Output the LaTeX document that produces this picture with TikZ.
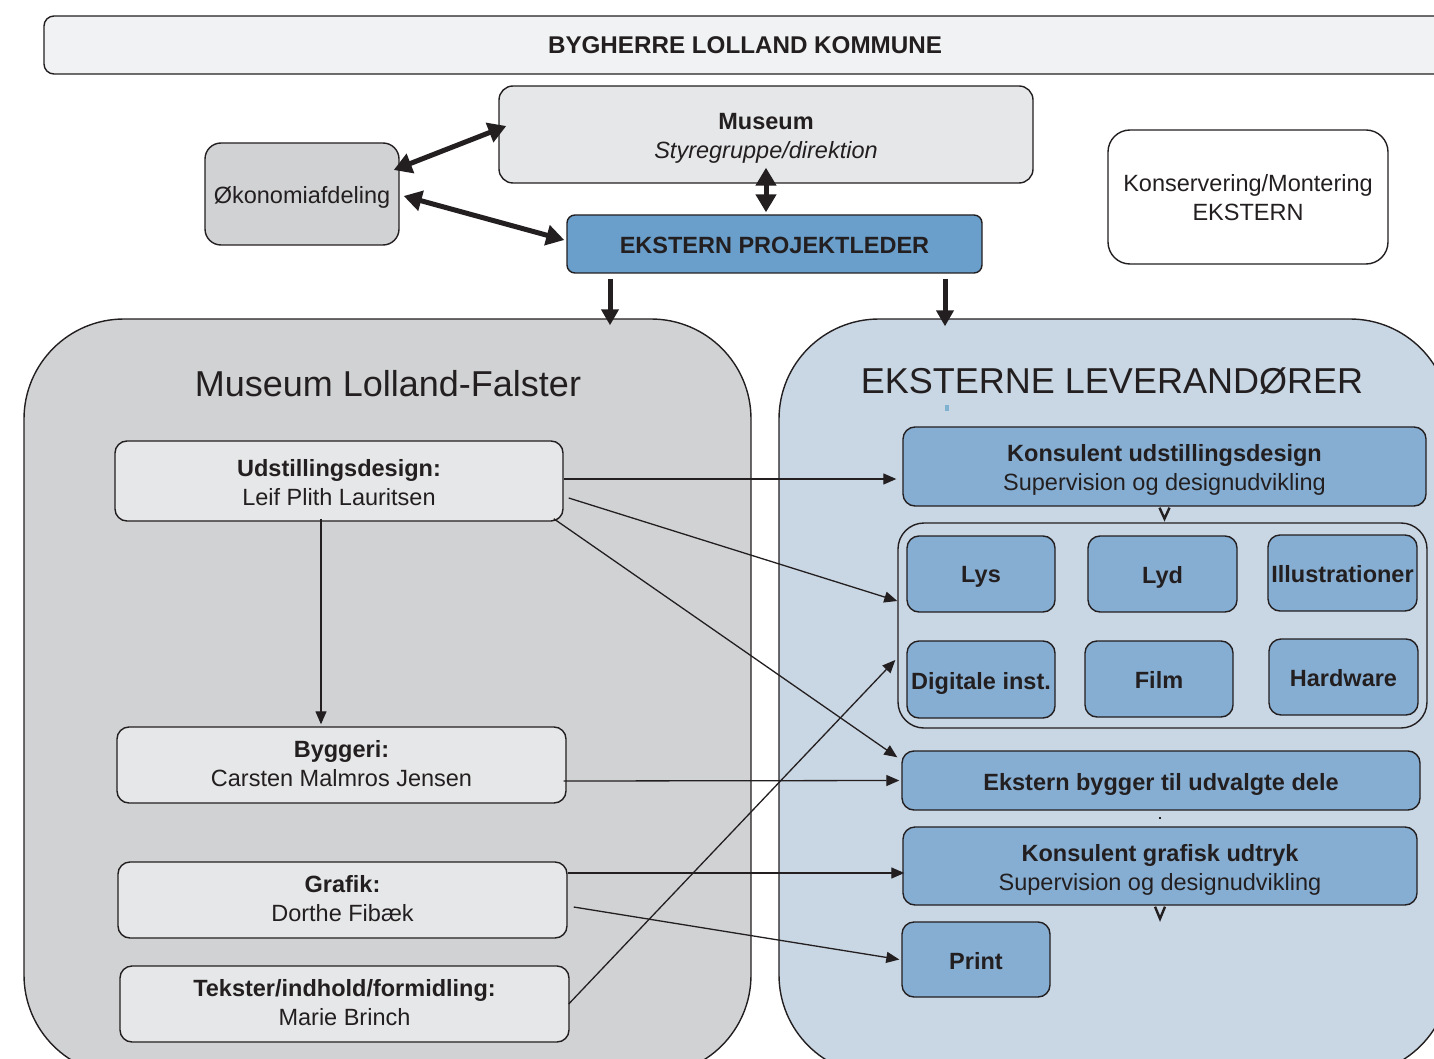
\documentclass[tikz,border=0pt]{standalone}
\usepackage{fontspec}
\setmainfont{Liberation Sans}
\usetikzlibrary{arrows.meta,calc}
\definecolor{ln}{HTML}{231F20}
\definecolor{cBar}{HTML}{F1F2F3}
\definecolor{cMus}{HTML}{E6E7E8}
\definecolor{cOk}{HTML}{D1D2D4}
\definecolor{cProj}{HTML}{6A9FCB}
\definecolor{cLeft}{HTML}{D1D2D4}
\definecolor{cRight}{HTML}{C9D6E3}
\definecolor{cBlue}{HTML}{86AED2}
\definecolor{cDot}{HTML}{7FB2D0}
\newcommand\nfs{\fontsize{23.5}{29}\selectfont}
\newcommand\tfs{\fontsize{36}{40}\selectfont}
\newcommand\dn[2]{\raisebox{-#1}[\height][\depth]{#2}}
\begin{document}
\begin{tikzpicture}[x=1pt,y=-1pt,
  box/.style={draw=ln, line width=1.4pt, rounded corners=12pt, inner sep=0pt, align=center, text=ln, font=\nfs},
  graybox/.style={box, fill=cMus},
  bluebox/.style={box, fill=cBlue, font=\nfs\bfseries},
  container/.style={draw=ln, line width=1.4pt, rounded corners=100pt, inner sep=0pt},
  thinarr/.style={draw=ln, line width=1.3pt, -{Triangle[length=13pt,width=11pt]}},
  thickarr/.style={draw=ln, line width=5pt, {Triangle[length=18pt,width=20pt]}-{Triangle[length=18pt,width=20pt]}},
  downarr/.style={draw=ln, line width=5pt, -{Triangle[length=16pt,width=17pt]}},
  vmark/.style={draw=ln, line width=2.4pt, line join=miter},
  title/.style={inner sep=0pt, text=ln, font=\tfs}
]
\useasboundingbox (0,0) rectangle (1434,1059);
\clip (0,0) rectangle (1434,1059);

% containers
\node[container, fill=cLeft, minimum width=727pt, minimum height=756pt] (lc) at (387.5,697) {};
\node[container, fill=cRight, minimum width=671pt, minimum height=756pt] (rc) at (1114.5,697) {};
\node[title] (lct) at (388,384) {Museum Lolland-Falster};
\node[title] (rct) at (1112,381) {EKSTERNE LEVERANDØRER};
\fill[cDot] (945,405) rectangle (949,411);

% top part
\node[box, fill=cBar, rounded corners=10pt, minimum width=1402pt, minimum height=58pt, font=\fontsize{24.2}{29}\selectfont\bfseries] (top) at (745,45) {BYGHERRE LOLLAND KOMMUNE};
\node[graybox, minimum width=534pt, minimum height=97pt, rounded corners=14pt] (mus) at (766,134.5) {\dn{4pt}{\textbf{Museum}}\\\dn{4pt}{\textit{Styregruppe/direktion}}};
\node[box, fill=cOk, minimum width=194pt, minimum height=102pt, rounded corners=16pt] (ok) at (302,194) {\dn{3pt}{Økonomiafdeling}};
\node[box, fill=cProj, minimum width=415pt, minimum height=58pt, rounded corners=8pt, font=\nfs\bfseries] (proj) at (774.5,244) {\dn{1pt}{EKSTERN PROJEKTLEDER}};
\node[box, fill=white, minimum width=280pt, minimum height=134pt, rounded corners=22pt] (kons) at (1248,197) {\dn{1pt}{Konservering/Montering}\\\dn{1pt}{EKSTERN}};

% left inner boxes
\node[graybox, minimum width=448pt, minimum height=80pt] (udst) at (339,481) {\dn{2pt}{\textbf{Udstillingsdesign:}}\\\dn{2pt}{Leif Plith Lauritsen}};
\node[graybox, minimum width=449pt, minimum height=76pt] (bygg) at (341.5,765) {\dn{-1pt}{\textbf{Byggeri:}}\\\dn{-1pt}{Carsten Malmros Jensen}};
\node[graybox, minimum width=449pt, minimum height=76pt] (graf) at (342.5,900) {\dn{-1pt}{\textbf{Grafik:}}\\\dn{-1pt}{Dorthe Fibæk}};
\node[graybox, minimum width=449pt, minimum height=76pt] (tekst) at (344.5,1004) {\dn{-1pt}{\textbf{Tekster/indhold/formidling:}}\\\dn{-1pt}{Marie Brinch}};

% right inner boxes
\node[box, fill=cBlue, minimum width=523pt, minimum height=79pt] (kud) at (1164.5,466.5) {\dn{3pt}{\textbf{Konsulent udstillingsdesign}}\\\dn{3pt}{Supervision og designudvikling}};
\node[box, fill=cRight, minimum width=529pt, minimum height=205pt, rounded corners=26pt] (grp) at (1162.5,625.5) {};
\node[bluebox, minimum width=148pt, minimum height=76pt] (lys) at (981,574) {\dn{3pt}{Lys}};
\node[bluebox, minimum width=149pt, minimum height=76pt] (lyd) at (1162.5,574) {\dn{3pt}{Lyd}};
\node[bluebox, minimum width=149pt, minimum height=76pt] (ill) at (1342.5,573) {\dn{1pt}{Illustrationer}};
\node[bluebox, minimum width=148pt, minimum height=77pt] (dig) at (981,679.5) {\dn{4pt}{Digitale inst.}};
\node[bluebox, minimum width=148pt, minimum height=76pt] (film) at (1159,679) {\dn{1pt}{Film}};
\node[bluebox, minimum width=149pt, minimum height=76pt] (hw) at (1343.5,677) {\dn{1pt}{Hardware}};
\node[bluebox, minimum width=518pt, minimum height=59pt] (bygger) at (1161,780.5) {\dn{4pt}{Ekstern bygger til udvalgte dele}};
\node[box, fill=cBlue, minimum width=514pt, minimum height=78pt] (kgu) at (1160,866) {\dn{4pt}{\textbf{Konsulent grafisk udtryk}}\\\dn{4pt}{Supervision og designudvikling}};
\node[bluebox, minimum width=148pt, minimum height=75pt] (print) at (976,959.5) {\dn{2pt}{Print}};
\fill[ln] (1159,817) rectangle (1161,819);

% V marks
\draw[vmark] ([xshift=-5pt,yshift=-1pt]kud.south) -- ([yshift=-12pt]kud.south) -- ([xshift=5pt,yshift=-1pt]kud.south);
\draw[vmark] ([xshift=-5pt,yshift=-1pt]kgu.south) -- ([yshift=-13pt]kgu.south) -- ([xshift=5pt,yshift=-1pt]kgu.south);

% thick arrows
\draw[thickarr] ([shift={(-6pt,24pt)}]ok.east) -- ([shift={(8pt,8.5pt)}]mus.west);
\draw[thickarr] ([shift={(4pt,-2pt)}]ok.east) -- ([shift={(-2pt,4pt)}]proj.west);
\draw[thickarr] ([yshift=16pt]mus.south) -- ([shift={(-8.5pt,2pt)}]proj.north);
\draw[downarr] ([shift={(-164.5pt,-5pt)}]proj.south) -- ($([xshift=-164.5pt]proj.south |- lc.north)+(0,7)$);
\draw[downarr] ([shift={(170.5pt,-5pt)}]proj.south) -- ($([xshift=170.5pt]proj.south |- rc.north)+(0,8)$);

% thin arrows
\draw[thinarr] ([yshift=2pt]udst.east) -- ([shift={(-6pt,-12.5pt)}]kud.west);
\draw[thinarr] ([shift={(5pt,-17pt)}]udst.east) -- ([yshift=24.5pt]grp.west);
\draw[thinarr] ([shift={(-10pt,3pt)}]udst.south east) -- ([shift={(-4pt,-7pt)}]bygger.north west);
\draw[thinarr] ([xshift=-18pt,yshift=3pt]udst.south) -- ([xshift=-18pt,yshift=2pt]udst.south |- bygg.north);
\draw[thinarr] ([shift={(-3pt,-16pt)}]bygg.east) -- ([xshift=-2pt]bygger.west);
\draw[thinarr] ([yshift=27pt]graf.east) -- ([shift={(2pt,-7pt)}]kgu.west);
\draw[thinarr] ([shift={(6pt,-7pt)}]graf.east) -- ([xshift=-2pt]print.west);
\draw[thinarr] ([xshift=-1pt]tekst.east) -- ([shift={(-2pt,-34.5pt)}]grp.west);
\end{tikzpicture}
\end{document}
